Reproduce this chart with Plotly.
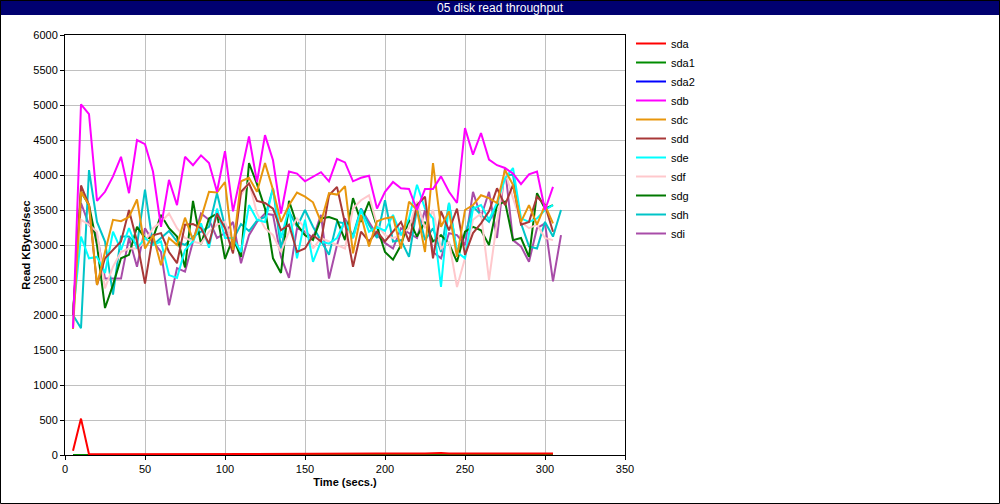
import plotly.graph_objects as go

time = list(range(5, 310, 5))          # 5 .. 305
time_long = list(range(5, 315, 5))     # 5 .. 310

sda = [60, 520, 10, 10, 12, 10, 12, 14, 12, 10, 10, 12, 10, 12, 14, 12, 10, 10, 12, 10,
       12, 10, 12, 10, 14, 20, 12, 10, 12, 10, 12, 10, 10, 12, 14, 18, 20, 18, 20, 22,
       20, 18, 20, 22, 20, 25, 30, 22, 20, 22, 25, 20, 18, 20, 22, 20, 18, 20, 22, 20, 20]
sda1 = [0] * 61
sda2 = [0] * 61
sdb = [1810, 5010, 4870, 3630, 3760, 3980, 4260, 3740, 4500, 4440, 4050, 3260, 3930, 3570, 4260,
       4140, 4280, 4170, 3760, 4340, 3480, 4000, 4550, 3900, 4570, 4210, 3450, 4050, 4020, 3910,
       3980, 4040, 3910, 4230, 4180, 3910, 3960, 3990, 3520, 3760, 3900, 3810, 3800, 3500, 3800,
       3800, 3980, 3760, 3600, 4670, 4290, 4600, 4220, 4140, 4100, 4020, 3870, 4010, 4050, 3500, 3830]
sdc = [1800, 3760, 3570, 2430, 2900, 3360, 3340, 3400, 3650, 2950, 3140, 2710, 3100, 3000, 3390,
       3070, 3380, 3760, 3750, 3900, 2930, 3910, 3960, 3760, 4170, 3790, 3330, 3570, 3750, 3690,
       3610, 3330, 3740, 3720, 3840, 2880, 3430, 2980, 3340, 3380, 3400, 2950, 3620, 3500, 2900,
       4170, 3260, 3480, 2830, 3500, 3570, 3710, 3670, 3600, 4070, 3860, 3330, 3570, 3290, 3570, 3310]
sdd = [2000, 3850, 3570, 2430, 2810, 2930, 3050, 3500, 3050, 2450, 3140, 3170, 2900, 2740, 3290,
       3300, 3240, 3020, 3450, 3240, 2880, 3760, 3880, 3630, 3600, 3520, 3210, 3290, 2900, 2950,
       3140, 3050, 3710, 3830, 3310, 2690, 3190, 3050, 3190, 3050, 3190, 3330, 3050, 3570, 3690,
       2810, 3480, 3210, 3520, 2860, 3170, 3310, 3480, 3810, 3570, 3860, 3290, 3330, 3690, 3570, 3190]
sde = [2000, 3120, 2810, 2830, 2600, 3190, 2930, 3240, 2950, 3100, 3000, 3050, 2570, 2530, 2930,
       3050, 3310, 2960, 3520, 3100, 3100, 2900, 3570, 3360, 3330, 3810, 3100, 3520, 2810, 3360,
       2760, 3050, 3020, 3100, 3340, 3100, 3500, 3190, 3260, 3200, 3430, 3140, 3380, 3860, 3520,
       3380, 2400, 3600, 2900, 2810, 3520, 3570, 3360, 3600, 3950, 4100, 3380, 3330, 3380, 3500, 3570]
sdf = [2000, 3360, 3290, 3190, 2380, 2690, 2900, 2950, 2950, 3050, 3240, 3330, 3450, 3240, 3100,
       3050, 3020, 3190, 3290, 3330, 3000, 3710, 3900, 3450, 3240, 3140, 2900, 3190, 3380, 3240,
       2950, 3100, 3050, 3000, 2950, 3520, 3640, 3710, 3290, 3140, 3100, 3140, 3240, 3620, 3240,
       3500, 2950, 3050, 2400, 2810, 3360, 3450, 2500, 3330, 4050, 3670, 3330, 3240, 3290, 3100, 3070]
sdg = [2000, 3760, 3570, 3000, 2100, 2430, 2810, 2860, 3260, 3100, 3100, 3430, 3240, 3120, 2680,
       3630, 3010, 3380, 3450, 2800, 3100, 2830, 4170, 3870, 3520, 2810, 2600, 3630, 3290, 3140,
       3070, 3380, 3400, 3360, 3070, 3670, 3330, 3620, 3260, 2900, 2790, 3000, 3360, 3120, 3330,
       3050, 3140, 3020, 2760, 3190, 3260, 3210, 3000, 3570, 3620, 3070, 3100, 2830, 3740, 3520, 3570]
sdh = [2000, 1810, 4070, 3330, 3050, 2290, 3120, 3120, 3000, 3790, 3000, 3100, 3200, 3050, 3000,
       3120, 3190, 3260, 3740, 3260, 3070, 3300, 3200, 3350, 3400, 3810, 2950, 3480, 3260, 3500,
       3260, 3050, 2860, 3330, 3310, 3140, 3520, 3290, 3100, 3640, 3050, 3070, 2830, 3520, 3070,
       3240, 2900, 3600, 2900, 3140, 3550, 3430, 3330, 3570, 4000, 4000, 3310, 2980, 2950, 3330, 3120, 3500]
sdi = [2000, 3600, 3290, 3140, 2520, 2520, 2520, 3100, 2690, 3240, 3050, 2900, 2140, 2670, 2620,
       3050, 3450, 3360, 3100, 3170, 3330, 2740, 3140, 3330, 3450, 3430, 2830, 2530, 3240, 3190,
       3100, 3430, 2520, 3000, 3380, 3100, 3520, 3330, 3140, 3030, 2950, 3240, 3170, 3100, 3500,
       2900, 2810, 3170, 3140, 3000, 3760, 3400, 3760, 3100, 4100, 3070, 2980, 2760, 3240, 3310, 2480, 3140]

series = [
    ("sda", sda, "#ff0000", time),
    ("sda1", sda1, "#008c00", time),
    ("sda2", sda2, "#0000ff", time),
    ("sdb", sdb, "#ff00ff", time),
    ("sdc", sdc, "#e8960c", time),
    ("sdd", sdd, "#a83838", time),
    ("sde", sde, "#00ffff", time),
    ("sdf", sdf, "#ffc8cc", time),
    ("sdg", sdg, "#007800", time),
    ("sdh", sdh, "#00c4c8", time_long),
    ("sdi", sdi, "#a84ca8", time_long),
]

fig = go.Figure()
for name, vals, color, xs in reversed(series):
    fig.add_trace(go.Scatter(x=xs[:len(vals)], y=vals, name=name, mode="lines",
                             line=dict(color=color, width=2)))

font = "Liberation Sans, Arial, sans-serif"
L, R, T, B = 65, 375, 35, 49
PW, PH = 1000 - L - R, 504 - T - B

def px(x):
    return (x - L) / PW

def py(y):
    return (504 - B - y) / PH

fig.update_layout(
    width=1000, height=504,
    margin=dict(l=L, r=R, t=T, b=B),
    paper_bgcolor="white", plot_bgcolor="white",
    font=dict(family=font, size=11, color="black"),
    showlegend=True,
    legend=dict(x=px(631), y=py(29), xanchor="left", yanchor="top",
                traceorder="reversed", font=dict(size=11),
                bgcolor="rgba(0,0,0,0)", itemwidth=30, tracegroupgap=0),
    xaxis=dict(range=[0, 350], tickvals=[0, 50, 100, 150, 200, 250, 300, 350],
               showgrid=True, gridcolor="#c0c0c0", gridwidth=1,
               showline=True, linecolor="black", linewidth=1, mirror=True,
               ticks="outside", ticklen=4, tickcolor="black", zeroline=False,
               title=dict(text="<b>Time (secs.)</b>", font=dict(size=11), standoff=4)),
    yaxis=dict(range=[0, 6000], dtick=500,
               showgrid=True, gridcolor="#c0c0c0", gridwidth=1,
               showline=True, linecolor="black", linewidth=1, mirror=True,
               ticks="outside", ticklen=4, tickcolor="black", zeroline=False,
               title=dict(text="<b>Read KBytes/sec</b>", font=dict(size=11), standoff=0)),
    shapes=[
        dict(type="rect", xref="paper", yref="paper", x0=px(0), x1=px(1000), y0=py(0), y1=py(15),
             fillcolor="#000070", line=dict(width=0), layer="above"),
        dict(type="rect", xref="paper", yref="paper", x0=px(0.5), x1=px(999.5), y0=py(0.5), y1=py(503.5),
             fillcolor="rgba(0,0,0,0)", line=dict(color="black", width=1), layer="above"),
    ],
    annotations=[
        dict(text="05 disk read throughput", xref="paper", yref="paper", x=px(500), y=py(7.5),
             xanchor="center", yanchor="middle", showarrow=False,
             font=dict(family=font, size=12, color="white")),
    ],
)

fig.write_html("out.html", config={"displayModeBar": False},
               post_script="document.body.style.margin='0';document.body.style.overflow='hidden';")
